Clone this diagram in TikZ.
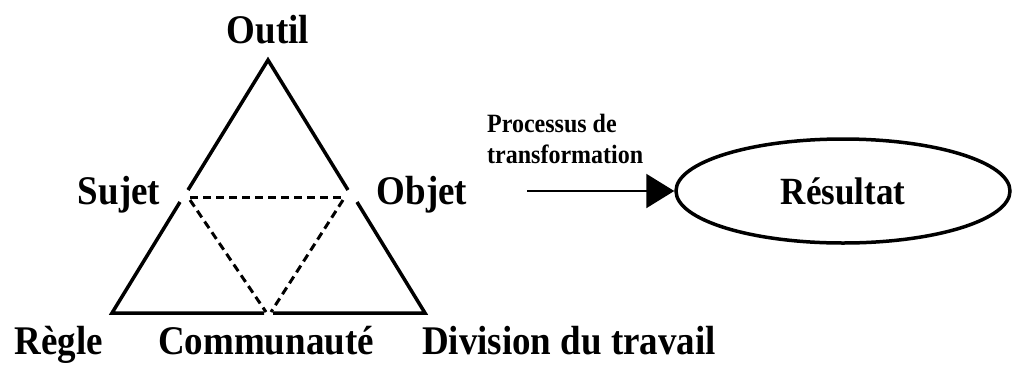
\documentclass[tikz,border=0pt]{standalone}
\usepackage{fontspec}
\setmainfont{Liberation Serif}
\usetikzlibrary{shapes.geometric,arrows.meta}
\newcommand{\tx}[1]{\scalebox{1}[1.1]{#1}}
\tikzset{
  lbl/.style={anchor=base,inner sep=0pt,font=\fontsize{37}{40}\selectfont\bfseries},
  small/.style={anchor=base west,inner sep=0pt,font=\fontsize{24}{26}\selectfont\bfseries},
  tri/.style={line width=3.5pt,line join=miter},
  dsh/.style={line width=3pt,dash pattern=on 8pt off 5pt},
}
\begin{document}
\begin{tikzpicture}[x=1pt,y=-1pt]
\useasboundingbox (0,0) rectangle (1015,365);
% triangle corners and breaks
\coordinate (A) at (268,60);
\coordinate (BL) at (112,313);
\coordinate (BR) at (425,313);
\coordinate (L1) at (188,190);
\coordinate (L2) at (180,202);
\coordinate (R1) at (348,190);
\coordinate (R2) at (357,202);
\coordinate (M1) at (264,313);
\coordinate (M2) at (273,313);
\draw[tri] (L1) -- (A) -- (R1);
\draw[tri] (L2) -- (BL) -- (M1);
\draw[tri] (M2) -- (BR) -- (R2);
% dashed inner triangle
\coordinate (DS) at (190,197);
\coordinate (DO) at (345,197);
\coordinate (DSa) at (190,200);
\coordinate (DOa) at (343,200);
\coordinate (DC1) at (266,312);
\coordinate (DC2) at (271,312);
\draw[dsh] (DS) -- (DO);
\draw[dsh] (DSa) -- (DC1);
\draw[dsh] (DOa) -- (DC2);
% labels
\node[lbl] (outil) at (268,43) {\tx{Outil}};
\node[lbl] (sujet) at (119,204) {\tx{Sujet}};
\node[lbl] (objet) at (422,204) {\tx{Objet}};
\node[lbl] (regle) at (59,354) {\tx{Règle}};
\node[lbl] (comm) at (266,354) {\tx{Communauté}};
\node[lbl] (div) at (569,354) {\tx{Division du travail}};
\node[small] (p1) at (487,132) {\tx{Processus de}};
\node[small] (p2) at (487,163) {\tx{transformation}};
% result
\node[draw,ellipse,line width=3.5pt,minimum width=334pt,minimum height=104pt,inner sep=0pt,
      font=\fontsize{35}{38}\selectfont\bfseries] (res) at (843,191) {\tx{Résultat}};
\coordinate (st) at (527,191);
\draw[line width=2.2pt,-{Triangle[length=28pt,width=34pt]}] (st) -- (res.west);
\end{tikzpicture}
\end{document}
